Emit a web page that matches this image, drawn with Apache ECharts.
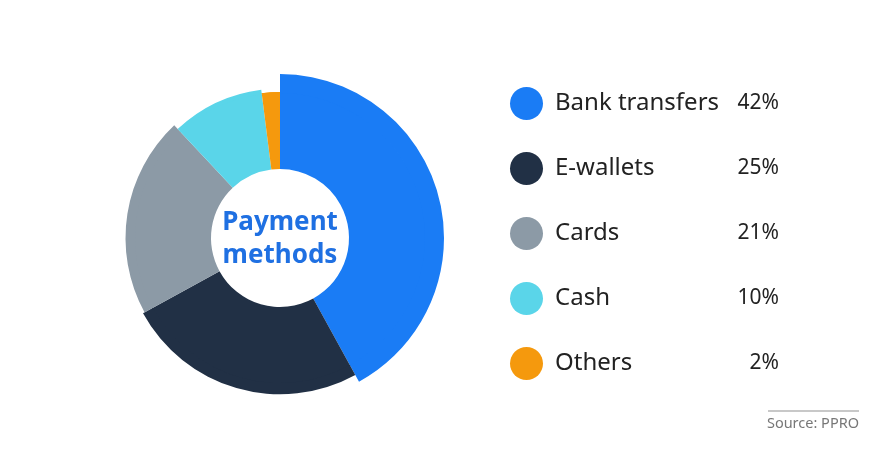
<!DOCTYPE html>
<html>
<head>
<meta charset="utf-8">
<script src="https://cdn.jsdelivr.net/npm/echarts@6/dist/echarts.min.js"></script>
<style>
  html, body { margin: 0; padding: 0; background: #fff; }
  #chart { width: 870px; height: 458px; }
</style>
</head>
<body>
<div id="chart"></div>
<script>
// payment methods share (%)
var methods = ['Bank transfers', 'E-wallets', 'Cards', 'Cash', 'Others'];
var shares = [42, 25, 21, 10, 2];
var colors = ['#1a7cf5', '#213045', '#8c9aa6', '#5ad5e9', '#f5990d'];

var pieData = methods.map(function (name, i) {
  return { name: name, value: shares[i], itemStyle: { color: colors[i] } };
});

var chart = echarts.init(document.getElementById('chart'));
chart.setOption({
  animation: false,
  legend: {
    orient: 'vertical',
    left: 505,
    top: 82,
    itemWidth: 33,
    itemHeight: 33,
    itemGap: 32,
    icon: 'circle',
    selectedMode: false,
    data: methods,
    formatter: function (name) {
      var v = shares[methods.indexOf(name)];
      return '{n|' + name + '}{v|' + v + '%}';
    },
    textStyle: {
      rich: {
        n: { fontFamily: 'Noto Sans', fontSize: 24, color: '#222', width: 180, padding: [0, 0, 0, 7] },
        v: { fontFamily: 'Noto Sans', fontSize: 21, color: '#222', width: 44, align: 'right' }
      }
    }
  },
  // base ring + thin rose ring on top gives the uneven outer edge
  series: [
    {
      type: 'pie',
      center: [280, 238],
      radius: [69, 146],
      silent: true,
      label: { show: false },
      labelLine: { show: false },
      data: pieData
    },
    {
      type: 'pie',
      center: [280, 238],
      radius: [145, 164],
      roseType: 'radius',
      silent: true,
      label: { show: false },
      labelLine: { show: false },
      data: pieData
    }
  ],
  graphic: [
    {
      type: 'text',
      x: 280, y: 239,
      style: {
        text: 'Payment\nmethods',
        textAlign: 'center',
        textVerticalAlign: 'middle',
        fontFamily: 'Noto Sans',
        fontWeight: 'bold',
        fontSize: 26,
        lineHeight: 33,
        fill: '#1f70e2'
      }
    },
    {
      type: 'rect',
      shape: { x: 768, y: 410, width: 91, height: 2 },
      style: { fill: '#c8c8c8' }
    },
    {
      type: 'text',
      x: 859, y: 424,
      style: {
        text: 'Source: PPRO',
        textAlign: 'right',
        textVerticalAlign: 'middle',
        fontFamily: 'Noto Sans',
        fontSize: 14.5,
        fill: '#777'
      }
    }
  ]
});
</script>
</body>
</html>
